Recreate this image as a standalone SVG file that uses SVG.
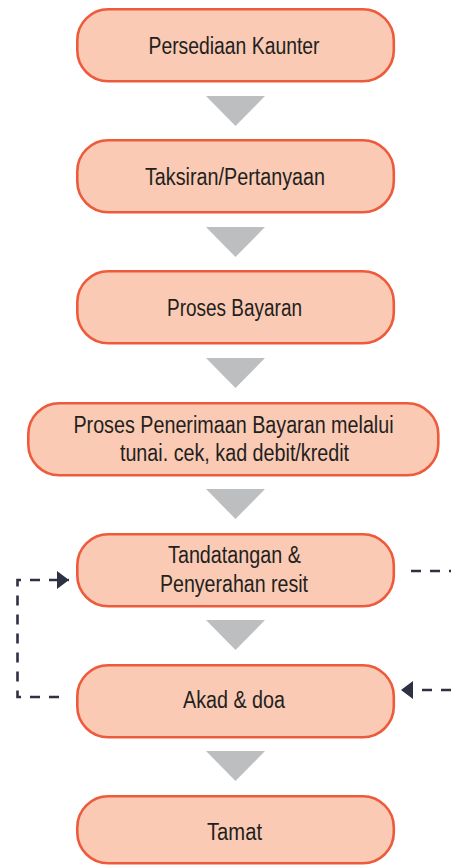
<svg xmlns="http://www.w3.org/2000/svg" width="451" height="865" viewBox="0 0 451 865">
<style>
.node rect{fill:#FACAB4;stroke:#EE5A3C;stroke-width:2.6}
.node text{font-family:"Liberation Sans",Arial,sans-serif;font-size:23.5px;fill:#231F20;text-anchor:middle}
.tri{fill:#BCBEC0}
.dash{fill:none;stroke:#2D3142;stroke-width:2.6;stroke-dasharray:10 9}
</style>
<defs>
<marker id="ah" markerUnits="userSpaceOnUse" markerWidth="12" markerHeight="18" viewBox="0 0 12 18" refX="12" refY="9" orient="auto">
<path d="M0,0 L12,9 L0,18 z" fill="#2D3142"/>
</marker>
</defs>
<g id="n1" class="node"><rect x="77.3" y="9.3" width="316.5" height="72" rx="31"/><text x="234" y="54" textLength="171" lengthAdjust="spacingAndGlyphs">Persediaan Kaunter</text></g>
<g id="n2" class="node"><rect x="77.3" y="140.3" width="316.5" height="72" rx="31"/><text x="235" y="185" textLength="180" lengthAdjust="spacingAndGlyphs">Taksiran/Pertanyaan</text></g>
<g id="n3" class="node"><rect x="77.3" y="271.3" width="316.5" height="72" rx="31"/><text x="234.5" y="315.5" textLength="135" lengthAdjust="spacingAndGlyphs">Proses Bayaran</text></g>
<g id="n4" class="node"><rect x="28.3" y="403.3" width="410" height="72" rx="31"/><text transform="translate(233.5,433) scale(0.84,1)" x="0" y="0">Proses Penerimaan Bayaran melalui</text><text transform="translate(234.5,461) scale(0.84,1)" x="0" y="0">tunai. cek, kad debit/kredit</text></g>
<g id="n5" class="node"><rect x="77.3" y="534.3" width="316.5" height="72" rx="31"/><text x="234.5" y="563" textLength="133" lengthAdjust="spacingAndGlyphs">Tandatangan &amp;</text><text x="234" y="592" textLength="148" lengthAdjust="spacingAndGlyphs">Penyerahan resit</text></g>
<g id="n6" class="node"><rect x="77.3" y="665.3" width="316.5" height="72" rx="31"/><text x="234" y="708" textLength="102" lengthAdjust="spacingAndGlyphs">Akad &amp; doa</text></g>
<g id="n7" class="node"><rect x="77.3" y="796.3" width="316.5" height="67" rx="31"/><text x="234.5" y="840" textLength="55" lengthAdjust="spacingAndGlyphs">Tamat</text></g>
<g id="connectors">
<polygon class="tri" points="206,96 265,96 235.5,126"/>
<polygon class="tri" points="206,227 265,227 235.5,257"/>
<polygon class="tri" points="206,358 265,358 235.5,388"/>
<polygon class="tri" points="206,489 265,489 235.5,519"/>
<polygon class="tri" points="206,620 265,620 235.5,650"/>
<polygon class="tri" points="206,751 265,751 235.5,781"/>
<path class="dash" d="M59,697 H17.5 V580 H69" marker-end="url(#ah)"/>
<path class="dash" d="M411,571 H451"/>
<path class="dash" d="M451,690 H401" marker-end="url(#ah)"/>
</g>
</svg>
